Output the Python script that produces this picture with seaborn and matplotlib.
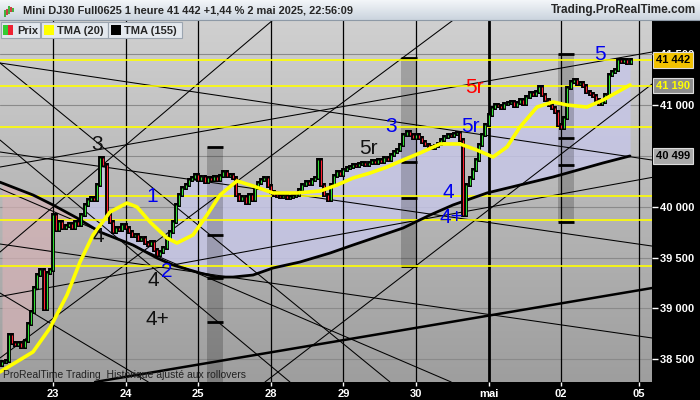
import numpy as np
import pandas as pd
import seaborn as sns
import matplotlib.pyplot as plt
from matplotlib.colors import LinearSegmentedColormap
from matplotlib.patches import Rectangle
import matplotlib.transforms as mtransforms

# ---------------- data ----------------
day_labels = ['23', '24', '25', '28', '29', '30', 'mai', '02', '05']
day_ticks = [0, 1, 2, 3, 4, 5, 6, 7, 8.07]

# hourly closes, one list per session (22 Apr session starts at 07:00)
close_22 = [38470, 38480, 38740, 38660, 38640, 38660, 38620, 38680, 38850, 38960,
            39200, 39330, 39380, 38990, 39350, 39380]
close_23 = [39920, 39770, 39850, 39790, 39810, 39830, 39790, 39850, 39820, 39920,
            40020, 40070, 40085, 40065, 40210, 40480, 40410, 39920, 39850, 39750,
            39790, 39770, 39820]
close_24 = [39790, 39751, 39712, 39722, 39672, 39692, 39643, 39623, 39653, 39574,
            39525, 39554, 39594, 39692, 39751, 39849, 40016, 40115, 40183, 40213,
            40262, 40282, 40311]
close_25 = [40263, 40292, 40243, 40282, 40263, 40292, 40263, 40302, 40341, 40302,
            40311, 40282, 40115, 40066, 40095, 40036, 40115, 40066, 40184, 40233,
            40263, 40282, 40204]
close_28 = [40145, 40115, 40105, 40095, 40105, 40086, 40095, 40105, 40115, 40164,
            40213, 40243, 40223, 40263, 40282, 40459, 40213, 40115, 40066, 40213,
            40302, 40341, 40311]
close_29 = [40361, 40380, 40390, 40410, 40400, 40420, 40430, 40410, 40430, 40449,
            40430, 40459, 40439, 40479, 40459, 40508, 40538, 40557, 40606, 40705,
            40734, 40705, 40675]
close_30 = [40705, 40675, 40636, 40606, 40587, 40577, 40597, 40616, 40656, 40685,
            40705, 40695, 40715, 40725, 40656, 39918, 40213, 40282, 40361, 40459,
            40606, 40705, 40803]
close_mai = [40901, 40970, 41000, 40990, 40970, 41010, 41020, 41030, 40990, 41020,
             41049, 41010, 41079, 41118, 41098, 41128, 41177, 41098, 41049, 41000,
             40970, 40931, 40803]
close_02 = [40773, 40872, 41167, 41226, 41246, 41207, 41216, 41187, 41128, 41108,
            41089, 41049, 41010, 41030, 41098, 41295, 41325, 41344, 41442, 41423,
            41442, 41413, 41442]
first_open = 38440
wick = 20

tma20_x = [-0.730, -0.275, -0.041, 0.193, 0.372, 0.551, 0.785, 1.019, 1.157, 1.336,
           1.570, 1.708, 1.928, 2.121, 2.300, 2.534, 2.755, 3.030, 3.361, 3.678,
           3.912, 4.132, 4.366, 4.601, 4.821, 5.055, 5.331, 5.606, 5.840, 6.061,
           6.253, 6.433, 6.667, 6.887, 7.080, 7.355, 7.576, 7.948]
tma20_y = [38375, 38572, 38808, 39132, 39456, 39722, 39948, 40036, 39997, 39850,
           39692, 39643, 39722, 39918, 40115, 40253, 40204, 40135, 40135, 40154,
           40213, 40282, 40331, 40390, 40459, 40528, 40617, 40617, 40557, 40489,
           40587, 40784, 40980, 41030, 41000, 40980, 41049, 41197]

tma155_x = [-0.730, -0.275, 0.0, 0.331, 0.647, 1.102, 1.433, 1.653, 2.025, 2.259,
            2.479, 2.755, 3.030, 3.402, 3.815, 4.132, 4.821, 5.193, 5.510, 5.978,
            6.887, 7.576, 7.948]
tma155_y = [40241, 40115, 40017, 39889, 39751, 39623, 39495, 39426, 39348, 39308,
            39308, 39328, 39397, 39456, 39544, 39623, 39790, 39918, 40017, 40135,
            40292, 40430, 40499]

yellow_levels = [41442, 41190, 40781, 40105, 39866, 39417]

# hand-drawn trend lines, each through two points
trend_x0 = [-0.730, -0.730, -0.730, -0.730, -0.730, 0.0, -0.730, -0.730, -0.730, 2.920, 0.923, -0.730]
trend_p0 = [41413, 40538, 39633, 40390, 39117, 39997, 41413, 40656, 38512, 38276, 39672, 39151]
trend_x1 = [8.251, 8.251, 8.251, 8.251, 8.251, 3.030, 4.642, 3.264, 5.441, 8.251, 3.815, 1.336]
trend_p1 = [40459, 39613, 38709, 41521, 40288, 41836, 38276, 38276, 41797, 41206, 38787, 38266]
thick_x = [0.579, 8.251]
thick_p = [38276, 39200]

box_x = [2.121, 4.793, 6.956]
box_top = [40587, 41462, 41501]
box_bottom = [38276, 39417, 39850]
box_marks = [[40587, 39722, 39299, 38867],
             [41462, 40442, 40086, 39417],
             [41501, 40676, 40410, 39850]]

wave_text = ['3', '1', '4', '2', '4', '4+', '5r', '3', '5r', '5r', '4', '4+', '5']
wave_x = [0.606, 1.364, 0.620, 1.570, 1.377, 1.433, 4.339, 4.656, 5.744, 5.799, 5.441, 5.482, 7.534]
wave_y = [40616, 40105, 39702, 39358, 39279, 38886, 40577, 40784, 40784, 41177, 40135, 39889, 41492]
wave_col = ['#111111', '#0000ee', '#111111', '#0000ee', '#111111', '#111111', '#111111',
            '#0000ee', '#0000ee', '#ff0000', '#0000ee', '#0000ee', '#0000ee']

grid_levels = [38500, 39000, 39500, 40000, 40500, 41000, 41500]
price_ticks = [38500, 39000, 39500, 40000, 41000, 41500]
tag_values = [41442, 41190, 40499]
tag_face = ['#f2c200', '#8e8e8e', '#a9a9a9']
tag_text = ['black', '#ffff00', 'black']

# ---------------- build bars ----------------
sessions = [close_22, close_23, close_24, close_25, close_28, close_29, close_30, close_mai, close_02]
bx, closes = [], []
for i, s in enumerate(sessions):
    start = 7 if i == 0 else 0
    for h, c in enumerate(s):
        bx.append(i - 1 + (start + h) / 23)
        closes.append(c)
df = pd.DataFrame({'x': bx, 'close': closes})
df['open'] = [first_open] + closes[:-1]
df['high'] = df[['open', 'close']].max(axis=1) + wick
df['low'] = df[['open', 'close']].min(axis=1) - wick
df['col'] = np.where(df['close'] >= df['open'], '#33dd33', '#ff2233')
df['t155'] = np.interp(df['x'], tma155_x, tma155_y)

# ---------------- figure ----------------
sns.set_style('white')
plt.rcParams['font.family'] = ['Liberation Sans', 'DejaVu Sans']

xmin, xmax = -0.730, 8.251
ymin, ymax = 38276, 41836

fig = plt.figure(figsize=(7, 4), dpi=100)
fig.patch.set_facecolor('black')
ax = fig.add_axes([0, 18 / 400, 652 / 700, 362 / 400])

bg = LinearSegmentedColormap.from_list('bg', ['#9e9e9e', '#d0d0d0'])
ax.imshow(np.linspace(0, 1, 256).reshape(-1, 1), extent=(xmin, xmax, ymin, ymax),
          origin='lower', aspect='auto', cmap=bg, zorder=0)

# price grid
for p in grid_levels:
    ax.axhline(p, color='#8a8a8a', lw=0.8, zorder=1)

# fill between price and long TMA
ax.fill_between(df['x'], df['close'], df['t155'], where=df['close'] >= df['t155'],
                interpolate=True, color='#c6c6e6', alpha=0.85, lw=0, zorder=1)
ax.fill_between(df['x'], df['close'], df['t155'], where=df['close'] < df['t155'],
                interpolate=True, color='#d6b2b6', alpha=0.7, lw=0, zorder=1)

# grey boxes
for x0, top, bot, marks in zip(box_x, box_top, box_bottom, box_marks):
    ax.add_patch(Rectangle((x0, bot), 0.22, top - bot, facecolor='black', alpha=0.2,
                           lw=0, zorder=2))
    ax.hlines(marks, x0, x0 + 0.22, color='black', lw=2, zorder=3)

# day separators
for t, lab in zip(day_ticks, day_labels):
    ax.axvline(t, color='black', lw=2 if lab == 'mai' else 0.9, zorder=2)

# trend lines
for x0, p0, x1, p1 in zip(trend_x0, trend_p0, trend_x1, trend_p1):
    ax.axline((x0, p0), (x1, p1), color='black', lw=0.75, zorder=2)
ax.axline((thick_x[0], thick_p[0]), (thick_x[1], thick_p[1]), color='black', lw=1.8, zorder=2)

for p in yellow_levels:
    ax.axhline(p, color='#ffff00', lw=1.2, zorder=3)

# TMA lines
sns.lineplot(x=tma155_x, y=tma155_y, ax=ax, color='black', linewidth=2.0, zorder=3)

# candles
ax.vlines(df['x'], df['low'], df['high'], color='black', lw=2.8, zorder=4)
ax.vlines(df['x'], df['open'], df['close'], colors=df['col'], lw=0.8, zorder=5)

sns.lineplot(x=tma20_x, y=tma20_y, ax=ax, color='#ffff00', linewidth=2.6, zorder=6)

for t, x, y, c in zip(wave_text, wave_x, wave_y, wave_col):
    ax.text(x, y, t, color=c, fontsize=15, ha='center', va='center', zorder=8)

ax.text(0.004, 0.006, 'ProRealTime Trading  Historique ajusté aux rollovers',
        transform=ax.transAxes, fontsize=7.5, color='#222222', va='bottom', zorder=8)

ax.set_xlim(xmin, xmax)
ax.set_ylim(ymin, ymax)
for s in ax.spines.values():
    s.set_visible(False)

ax.yaxis.tick_right()
ax.set_yticks(price_ticks, [f'{v:,}'.replace(',', ' ') for v in price_ticks])
ax.set_xticks(day_ticks, day_labels)
ax.tick_params(axis='y', colors='white', labelsize=8, length=4, width=1, pad=2, right=True)
ax.tick_params(axis='x', colors='white', labelsize=8, length=3, width=1, pad=2, bottom=True)
for lab in ax.get_xticklabels() + ax.get_yticklabels():
    lab.set_fontweight('bold')
ax.set_xlabel('')
ax.set_ylabel('')

# price tags on the right scale
trans = mtransforms.blended_transform_factory(ax.transAxes, ax.transData)
for v, fc, tc in zip(tag_values, tag_face, tag_text):
    ax.text(1.006, v, f'{v:,}'.replace(',', ' '), transform=trans, fontsize=8,
            fontweight='bold', color=tc, ha='left', va='center', clip_on=False, zorder=20,
            bbox=dict(boxstyle='square,pad=0.25', fc=fc, ec='#dddddd', lw=0.8))

# ---------------- header and legend (pixel overlay) ----------------
ov = fig.add_axes([0, 0, 1, 1], zorder=10)
ov.patch.set_alpha(0)
tb = LinearSegmentedColormap.from_list('tb', ['#f3f6f9', '#cbd4de'])
ov.imshow(np.linspace(0, 1, 64).reshape(-1, 1), extent=(0, 700, 20, 0), cmap=tb, aspect='auto')
ov.plot([0, 700], [20, 20], color='#8d99a6', lw=0.8)
ov.text(23, 10.5, 'Mini DJ30 Full0625 1 heure 41 442 +1,44 % 2 mai 2025, 22:56:09',
        fontsize=7.9, fontweight='bold', va='center', ha='left')
ov.text(696, 10.5, 'Trading.ProRealTime.com', fontsize=8.5, fontweight='bold',
        va='center', ha='right')
# small candle icon
ov.vlines([5, 9, 13], [10, 6, 8], [17, 14, 12], color='#22aa22', lw=1.2)
ov.vlines([7, 11], [9, 7], [15, 12], color='#cc2222', lw=1.2)

legend_boxes = [(1, 39, 'Prix'), (41, 67, 'TMA (20)'), (108, 74, 'TMA (155)')]
for x0, w, lab in legend_boxes:
    ov.add_patch(Rectangle((x0, 22), w, 16, fc='#e3e8ee', ec='#9ba5b0', lw=0.8))
    ov.text(x0 + 16, 30.5, lab, fontsize=8, fontweight='bold', va='center', ha='left')
ov.add_patch(Rectangle((3, 25), 5, 10, fc='#33cc33', lw=0))
ov.add_patch(Rectangle((8, 25), 5, 10, fc='#ee2233', lw=0))
ov.add_patch(Rectangle((44, 25), 10, 10, fc='#ffff00', lw=0))
ov.add_patch(Rectangle((111, 25), 10, 10, fc='black', lw=0))

ov.set_xlim(0, 700)
ov.set_ylim(400, 0)
ov.axis('off')

plt.savefig('out.png', dpi=100, facecolor=fig.get_facecolor())
